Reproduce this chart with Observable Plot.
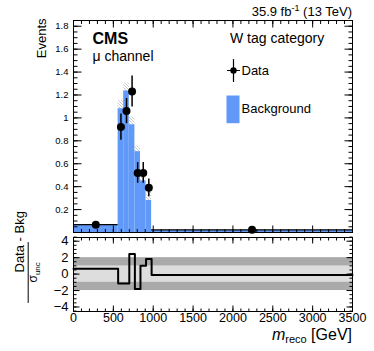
<!DOCTYPE html>
<html><head><meta charset="utf-8">
<script src="https://cdn.jsdelivr.net/npm/d3@7"></script>
<script src="https://cdn.jsdelivr.net/npm/@observablehq/plot@0.6"></script>
<style>
body{margin:0;background:#fff;}
#chart{position:relative;width:374px;height:351px;}
#chart svg{position:absolute;left:0;overflow:visible;}
</style></head><body><div id="chart"></div>
<script>
// ---- data ----
const binEdges = [0, 560, 630, 700, 770, 840, 910, 980, 3500];
const background = [0.065, 1.08, 1.235, 0.94, 0.705, 0.45, 0.28, 0.018];
const backgroundUnc = [0.004, 0.07, 0.07, 0.07, 0.05, 0.06, 0.07, 0.002];
const dataValues = [0.068, 0.92, 1.06, 1.23, 0.52, 0.52, 0.39, 0.023];
const dataErrors = [0.012, 0.115, 0.11, 0.135, 0.09, 0.09, 0.077, 0.008];
const pulls = [0.65, -1.15, -1.15, 2.45, -1.8, 1.0, 1.85, -0.1];
const pullBands = [2, 1];
const xDomain = [0, 3500];
const xTicks = [0, 500, 1000, 1500, 2000, 2500, 3000, 3500];
const upperYTicks = [0.2, 0.4, 0.6, 0.8, 1.0, 1.2, 1.4, 1.6, 1.8];
const lowerYTicks = [-4, -2, 0, 2, 4];

const BLUE = "#6199f8";
const FONT = "Liberation Sans, Arial, Helvetica, sans-serif";
const W = 374, ML = 73, MR = 22;

const bins = background.map((b, i) => ({
  x1: binEdges[i], x2: binEdges[i + 1], xc: (binEdges[i] + binEdges[i + 1]) / 2,
  bkg: b, unc: backgroundUnc[i], data: dataValues[i], err: dataErrors[i]
}));
const pullSteps = binEdges.map((e, i) => ({x: e, y: pulls[Math.min(i, pulls.length - 1)]}));

const lineShape = {draw(ctx, l) { ctx.moveTo(0, 0); ctx.lineTo(0, -l); }};
const boxShape = {draw(ctx, l) { ctx.rect(-6.5, -l, 13, l); }};

function ticks(values, side, len, sw = 1) {
  const rot = {bottom: 0, top: 180, left: 90, right: -90}[side];
  const ch = (side === "bottom" || side === "top") ? {x: d => d} : {y: d => d};
  return Plot.vector(values, {...ch, frameAnchor: side, rotate: rot, length: len, anchor: "start",
    shape: lineShape, stroke: "black", strokeWidth: sw, strokeLinecap: "butt"});
}

const chart = document.getElementById("chart");

// ---------- upper pad ----------
const upper = Plot.plot({
  width: W, height: 233, marginTop: 20, marginBottom: 1, marginLeft: ML, marginRight: MR,
  style: {fontFamily: FONT, color: "black", background: "transparent"},
  x: {domain: xDomain, axis: null},
  y: {domain: [0, 1.85], axis: null},
  marks: [
    Plot.rect(bins, {x1: "x1", x2: "x2", y1: d => d.bkg - d.unc, y2: d => d.bkg + d.unc, fill: "url(#hatch)", inset: 0}),
    Plot.rect(bins, {x1: "x1", x2: "x2", y1: 0, y2: "bkg", fill: BLUE, inset: 0}),
    Plot.ruleY(bins, {y: "data", x1: "x1", x2: "x2", stroke: "black", strokeWidth: 1.3}),
    Plot.ruleX(bins, {x: "xc", y1: d => d.data - d.err, y2: d => d.data + d.err, stroke: "black", strokeWidth: 1.5}),
    Plot.dot(bins, {x: "xc", y: "data", r: 4, fill: "black"}),
    ticks(d3.range(0.05, 1.85, 0.05), "left", 4), ticks(upperYTicks, "left", 8),
    ticks(d3.range(0.05, 1.85, 0.05), "right", 4), ticks(upperYTicks, "right", 8),
    ticks(d3.range(100, 3500, 100), "top", 3.5), ticks(xTicks, "top", 7),
    ticks(d3.range(100, 3500, 100), "bottom", 3.5), ticks(xTicks, "bottom", 7),
    Plot.axisY({ticks: upperYTicks, tickSize: 0, tickPadding: 5, fontSize: 9.5, label: null, tickFormat: d => String(+d.toFixed(1))}),
    Plot.frame({stroke: "black", strokeWidth: 1}),
    Plot.text(["Events"], {frameAnchor: "top-left", dx: -28, dy: -2, rotate: -90, textAnchor: "end", lineAnchor: "bottom", fontSize: 13, fill: "black"}),
    Plot.text(["CMS"], {frameAnchor: "top-left", dx: 19, dy: 23.3, textAnchor: "start", lineAnchor: "bottom", fontSize: 16, fontWeight: "bold", fill: "black"}),
    Plot.text(["μ channel"], {frameAnchor: "top-left", dx: 19, dy: 40.5, textAnchor: "start", lineAnchor: "bottom", fontSize: 14, fill: "black"}),
    Plot.text(["W tag category"], {frameAnchor: "top-left", dx: 156.5, dy: 22, textAnchor: "start", lineAnchor: "bottom", fontSize: 14, fill: "black"}),
    Plot.vector([0], {frameAnchor: "top-left", dx: 160, dy: 50, length: 22, anchor: "middle", shape: lineShape, stroke: "black", strokeWidth: 1.2}),
    Plot.vector([0], {frameAnchor: "top-left", dx: 160, dy: 50, length: 12, rotate: 90, anchor: "middle", shape: lineShape, stroke: "black", strokeWidth: 1.2}),
    Plot.dot([0], {frameAnchor: "top-left", dx: 160, dy: 50, r: 3.2, fill: "black"}),
    Plot.text(["Data"], {frameAnchor: "top-left", dx: 168, dy: 54.3, textAnchor: "start", lineAnchor: "bottom", fontSize: 13, fill: "black"}),
    Plot.vector([0], {frameAnchor: "top-left", dx: 159.5, dy: 102.7, length: 27.7, anchor: "start", shape: boxShape, fill: BLUE, stroke: "none"}),
    Plot.text(["Background"], {frameAnchor: "top-left", dx: 168, dy: 92.5, textAnchor: "start", lineAnchor: "bottom", fontSize: 13, fill: "black"})
  ]
});
upper.style.top = "0px";
const defs = d3.select(upper).insert("defs", ":first-child");
defs.append("pattern").attr("id", "hatch").attr("patternUnits", "userSpaceOnUse").attr("width", 3).attr("height", 3)
  .append("path").attr("d", "M-1,-1L4,4M2,-1L4,1M-1,2L1,4").attr("stroke", "#b0b0b0").attr("stroke-width", 0.7);
// luminosity label with superscript
const lumi = d3.select(upper).append("text").attr("x", W - MR).attr("y", 15.7).attr("text-anchor", "end")
  .attr("font-family", FONT).attr("font-size", 13).attr("fill", "black");
lumi.append("tspan").text("35.9 fb");
lumi.append("tspan").attr("font-size", 9).attr("dy", -5).text("-1");
lumi.append("tspan").attr("dy", 5).text(" (13 TeV)");
chart.appendChild(upper);

// ---------- lower pad ----------
const lower = Plot.plot({
  width: W, height: 118, marginTop: 4, marginBottom: 40, marginLeft: ML, marginRight: MR,
  style: {fontFamily: FONT, color: "black", background: "transparent"},
  x: {domain: xDomain, axis: null},
  y: {domain: [-4.55, 4.45], axis: null},
  marks: [
    Plot.rect([pullBands[0]], {x1: xDomain[0], x2: xDomain[1], y1: d => -d, y2: d => d, fill: "#aaaaaa", inset: 0}),
    Plot.rect([pullBands[1]], {x1: xDomain[0], x2: xDomain[1], y1: d => -d, y2: d => d, fill: "#dddddd", inset: 0}),
    Plot.line(pullSteps, {x: "x", y: "y", curve: "step-after", stroke: "black", strokeWidth: 2}),
    ticks(d3.range(-4.5, 4.6, 0.5), "left", 3), ticks(lowerYTicks, "left", 6),
    ticks(d3.range(-4.5, 4.6, 0.5), "right", 3), ticks(lowerYTicks, "right", 6),
    ticks(d3.range(100, 3500, 100), "top", 3), ticks(xTicks, "top", 6),
    ticks(d3.range(100, 3500, 100), "bottom", 3), ticks(xTicks, "bottom", 6),
    Plot.axisY({ticks: lowerYTicks, tickSize: 0, tickPadding: 5, fontSize: 13, label: null}),
    Plot.axisX({ticks: xTicks, tickSize: 0, tickPadding: 2, fontSize: 12.5, label: null, tickFormat: d => String(d)}),
    Plot.frame({stroke: "black", strokeWidth: 1}),
    Plot.text(["Data - Bkg"], {frameAnchor: "left", dx: -49.5, dy: -2, rotate: -90, lineAnchor: "bottom", fontSize: 13, fill: "black"}),
    Plot.vector([0], {frameAnchor: "left", dx: -45.3, dy: -2, length: 60, anchor: "middle", shape: lineShape, stroke: "black", strokeWidth: 1})
  ]
});
lower.style.top = "233px";
const sig = d3.select(lower).append("text").attr("text-anchor", "start")
  .attr("font-family", FONT).attr("font-size", 12).attr("fill", "black");
sig.append("tspan").text("σ");
sig.append("tspan").attr("font-size", 8).attr("dy", 3).text("unc");
sig.attr("transform", `translate(36.5,${282.5 - 233}) rotate(-90)`);
const xt = d3.select(lower).append("text").attr("x", W - MR).attr("y", 340 - 233).attr("text-anchor", "end")
  .attr("font-family", FONT).attr("font-size", 16).attr("fill", "black");
xt.append("tspan").attr("font-style", "italic").text("m");
xt.append("tspan").attr("font-size", 11).attr("dy", 3).text("reco");
xt.append("tspan").attr("dy", -3).text(" [GeV]");
chart.appendChild(lower);
</script></body></html>
